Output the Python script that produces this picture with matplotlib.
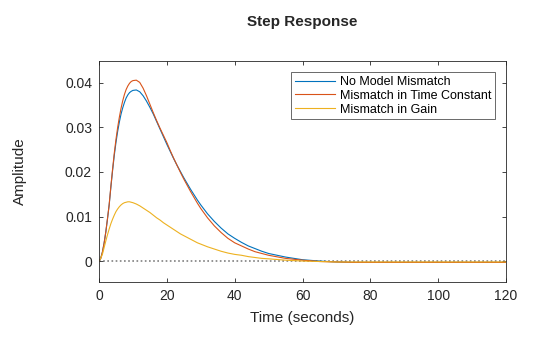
import numpy as np
import matplotlib.pyplot as plt

plt.rcParams['font.family'] = ['Liberation Sans', 'DejaVu Sans']

# time samples (seconds) and amplitudes
t = [0, 0.5, 1, 1.5, 2, 2.5, 3, 3.5, 4, 4.5, 5, 5.5, 6, 6.5, 7, 7.5, 8, 8.5, 9, 9.5, 10,
     11, 12, 13, 14, 15, 16, 17, 18, 19, 20, 21, 22, 23, 24, 25, 26, 27, 28, 29, 30,
     32, 34, 36, 38, 40, 42, 44, 46, 48, 50,
     55, 60, 65, 70, 75, 80, 85, 90, 95, 100, 105, 110, 115, 120]

no_mismatch = [0, 0.0006, 0.0020, 0.0040, 0.0065, 0.0095, 0.0126, 0.0166, 0.0203, 0.0237,
               0.0266, 0.0291, 0.0312, 0.0330, 0.0344, 0.0356, 0.0366, 0.0373, 0.0378,
               0.0381, 0.0383,
               0.0384, 0.0380, 0.0371, 0.0359, 0.0345, 0.0330, 0.0313, 0.0296, 0.0279,
               0.0262, 0.0246, 0.0230, 0.0215, 0.0201, 0.0187, 0.0174, 0.0161, 0.0149,
               0.0137, 0.0126,
               0.0106, 0.0089, 0.0074, 0.0061, 0.0051, 0.0042, 0.0034, 0.0028, 0.0022, 0.0017,
               0.0009, 0.0003, 0.0000, -0.0002, -0.0003, -0.0003, -0.0003, -0.0003, -0.0003,
               -0.0003, -0.0003, -0.0003, -0.0003, -0.0003]

tc_mismatch = [0, 0.0006, 0.0020, 0.0040, 0.0065, 0.0095, 0.0127, 0.0168, 0.0206, 0.0242,
               0.0273, 0.0300, 0.0323, 0.0343, 0.0360, 0.0374, 0.0385, 0.0393, 0.0399,
               0.0403, 0.0405,
               0.0406, 0.0401, 0.0388, 0.0371, 0.0352, 0.0333, 0.0315, 0.0298, 0.0282,
               0.0266, 0.0248, 0.0231, 0.0215, 0.0199, 0.0184, 0.0170, 0.0156, 0.0143,
               0.0130, 0.0118,
               0.0097, 0.0079, 0.0064, 0.0051, 0.0041, 0.0034, 0.0027, 0.0021, 0.0017, 0.0013,
               0.0006, 0.0002, -0.0001, -0.0002, -0.0003, -0.0003, -0.0003, -0.0003, -0.0003,
               -0.0003, -0.0003, -0.0003, -0.0003, -0.0003]

gain_mismatch = [0, 0.0006, 0.0015, 0.0030, 0.0045, 0.0059, 0.0072, 0.0084, 0.0094, 0.0103,
                 0.0111, 0.0117, 0.0122, 0.0126, 0.0129, 0.0131, 0.0132, 0.0133, 0.0133,
                 0.0132, 0.0131,
                 0.0128, 0.0124, 0.0119, 0.0114, 0.0109, 0.0103, 0.0097, 0.0092, 0.0086,
                 0.0081, 0.0076, 0.0071, 0.0066, 0.0061, 0.0057, 0.0053, 0.0049, 0.0045,
                 0.0041, 0.0038,
                 0.0032, 0.0027, 0.0022, 0.0018, 0.0015, 0.0013, 0.0010, 0.0008, 0.0006, 0.0005,
                 0.0002, 0.0000, -0.0001, -0.0002, -0.0002, -0.0002, -0.0002, -0.0002, -0.0002,
                 -0.0002, -0.0002, -0.0002, -0.0002, -0.0002]

xticks = [0, 20, 40, 60, 80, 100, 120]
yticks = [0, 0.01, 0.02, 0.03, 0.04]

axcol = '#262626'

fig = plt.figure(figsize=(5.6, 3.37), dpi=100)
ax = fig.add_axes([0.1768, 0.1632, 0.7268, 0.6558])

ax.plot(t, no_mismatch, color='#0072BD', lw=0.8, label='No Model Mismatch')
ax.plot(t, tc_mismatch, color='#D95319', lw=0.8, label='Mismatch in Time Constant')
ax.plot(t, gain_mismatch, color='#EDB120', lw=0.8, label='Mismatch in Gain')
ax.axhline(0, color='#808080', lw=1.2, ls=(0, (1, 1.5)), zorder=0)

ax.set_xlim(0, 120)
ax.set_ylim(-0.0047, 0.0449)
ax.set_xticks(xticks)
ax.set_xticklabels([str(x) for x in xticks])
ax.set_yticks(yticks)
ax.set_yticklabels(['0', '0.01', '0.02', '0.03', '0.04'])

ax.tick_params(direction='in', length=3, width=0.6, colors=axcol, labelsize=10,
               top=True, right=True, pad=5)
for s in ax.spines.values():
    s.set_color(axcol)
    s.set_linewidth(0.6)

ax.set_xlabel('Time (seconds)', fontsize=11, color=axcol, labelpad=6)
ax.set_ylabel('Amplitude', fontsize=11, color=axcol, labelpad=27)
ax.set_title('Step Response', fontsize=11, fontweight='bold', color=axcol, pad=25)

leg = ax.legend(loc='upper right', fontsize=9, frameon=True, fancybox=False,
                borderpad=0.3, labelspacing=0.15, handlelength=3.2,
                handletextpad=0.4, borderaxespad=0.9)
leg.get_frame().set_edgecolor('#262626')
leg.get_frame().set_linewidth(0.6)

fig.savefig('out.png', dpi=100)
